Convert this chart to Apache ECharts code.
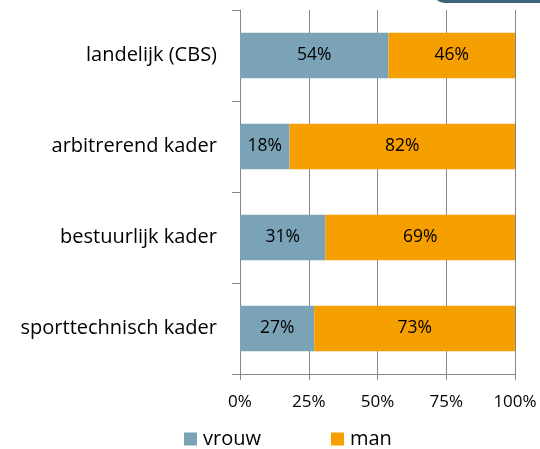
<!DOCTYPE html>
<html>
<head>
<meta charset="utf-8">
<script src="https://cdn.jsdelivr.net/npm/echarts@6/dist/echarts.min.js"></script>
<style>
  html, body { margin: 0; padding: 0; background: #fff; }
  #chart { width: 540px; height: 449px; }
</style>
</head>
<body>
<div id="chart"></div>
<script>
// categories top to bottom
const categories = ['landelijk (CBS)', 'arbitrerend kader', 'bestuurlijk kader', 'sporttechnisch kader'];
const vrouw = [54, 18, 31, 27];
const man = [46, 82, 69, 73];
const xTicks = [0, 25, 50, 75, 100];

const chart = echarts.init(document.getElementById('chart'));
const font = '"Open Sans", sans-serif';

chart.setOption({
    backgroundColor: '#fff',
    animation: false,
    textStyle: { fontFamily: font },
    grid: { left: 240, right: 25, top: 10, bottom: 75 },
    legend: {
        top: 424,
        left: 179,
        itemWidth: 13,
        itemHeight: 13,
        itemGap: 70,
        icon: 'rect',
        textStyle: { fontSize: 20, color: '#000', fontFamily: font, padding: [0, 0, 0, 1] },
        data: ['vrouw', 'man']
    },
    graphic: [{
        type: 'rect',
        shape: { x: 433, y: -20, width: 120, height: 23, r: 12 },
        style: { fill: '#3e6577' }
    }],
    xAxis: {
        type: 'value',
        min: xTicks[0],
        max: xTicks[xTicks.length - 1],
        interval: 25,
        axisLine: { show: true, lineStyle: { color: '#868686', width: 1 } },
        axisTick: { show: true, length: 6, lineStyle: { color: '#868686' } },
        splitLine: { show: true, lineStyle: { color: '#868686', width: 1 } },
        axisLabel: { formatter: '{value}%', fontSize: 17, color: '#000', margin: 20 }
    },
    yAxis: {
        type: 'category',
        inverse: true,
        data: categories,
        axisLine: { show: true, lineStyle: { color: '#868686', width: 1 } },
        axisTick: { show: true, length: 8, lineStyle: { color: '#868686' } },
        axisLabel: { fontSize: 20, color: '#000', margin: 23 }
    },
    series: [
        {
            name: 'vrouw', type: 'bar', stack: 'total', barWidth: '50%',
            itemStyle: { color: '#7aa3b7' },
            label: { show: true, position: 'inside', formatter: '{c}%', fontSize: 17.5, color: '#000' },
            data: vrouw
        },
        {
            name: 'man', type: 'bar', stack: 'total', barWidth: '50%',
            itemStyle: { color: '#f59f00' },
            label: { show: true, position: 'inside', formatter: '{c}%', fontSize: 17.5, color: '#000' },
            data: man
        }
    ]
});
</script>
</body>
</html>
